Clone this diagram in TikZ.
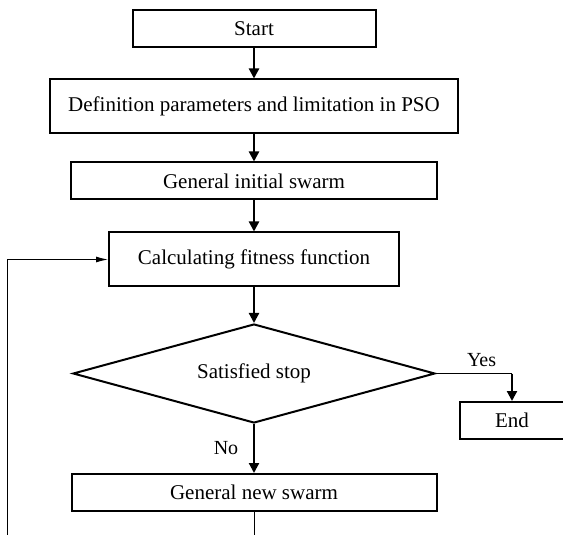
\documentclass[tikz,border=0pt]{standalone}
\usepackage{fontspec}
\setmainfont{Liberation Serif}
\usepackage{tikz}
\usetikzlibrary{shapes.geometric}
\usetikzlibrary{arrows.meta}
\newcommand{\heightbox}{18.5pt}
\newcommand{\heightbigbox}{27pt}
\tikzset{
    common/.style={draw, line width=1pt, inner sep=2pt, font=\fontsize{10.5}{12}\selectfont},
    box/.style={common, rectangle, minimum height=\heightbox},
    bigbox/.style={box, minimum height=\heightbigbox},
    decision/.style={common, diamond, aspect=3.6, inner sep=0pt, minimum width=181pt, minimum height=49.5pt},
    flow/.style={-{Triangle[length=5pt, width=5pt]}, line width=1.1pt},
    link/.style={line width=0.5pt},
    back/.style={link, -{Latex[length=6pt, width=3pt]}}
}

\begin{document}
\begin{tikzpicture}[x=0.5pt, y=-0.5pt]
    \useasboundingbox (0,0) rectangle (563,535);

    \node[box, minimum width=121.5pt] (start) at (254,29) {Start};
    \node[bigbox, minimum width=204pt] (param) at (254,106.5) {Definition parameters and limitation in PSO};
    \node[box, minimum width=183pt] (initswarm) at (254,181) {General initial swarm};
    \node[bigbox, minimum width=145pt] (fitness) at (254,259.5) {Calculating fitness function};
    \node[decision] (stop) at (254,373.5) {Satisfied stop};
    \node[box, minimum width=52pt] (end) at (512,420.5) {End};
    \node[box, minimum width=182.5pt] (newswarm) at (254,492.5) {General new swarm};

    \coordinate (yes) at (stop.east -| end.north);
    \coordinate (loopdown) at (254,535);
    \coordinate (loopup) at (7,535);

    \draw[flow] (start) -- (param);
    \draw[flow] (param) -- (initswarm);
    \draw[flow] (initswarm) -- (fitness);
    \draw[flow] (fitness) -- (stop);
    \draw[link] (stop.east) -- node[pos=0.6, above] {Yes} (yes);
    \draw[flow] (yes) -- (end);
    \draw[flow] (stop) -- node[midway, left=4pt] {No} (newswarm);
    \draw[link] (newswarm) -- (loopdown);
    \draw[back] (loopup) |- (fitness);
\end{tikzpicture}
\end{document}
